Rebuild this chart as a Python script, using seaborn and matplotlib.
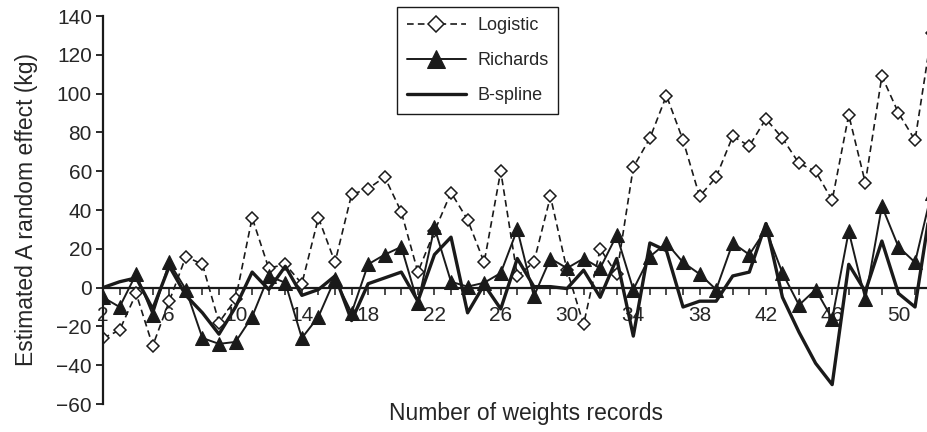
import matplotlib
matplotlib.use('Agg')
import matplotlib.pyplot as plt
import seaborn as sns
import numpy as np
import pandas as pd

# number of weight records on the x axis
records = list(range(2, 53))

logistic = [-26, -22, -3, -30, -7, 16, 12, -18, -6, 36, 10, 12, 2, 36, 13,
            48, 51, 57, 39, 8, 29, 49, 35, 13, 60, 6, 13, 47, 9, -19, 20, 7,
            62, 77, 99, 76, 47, 57, 78, 73, 87, 77, 64, 60, 45, 89, 54, 109,
            90, 76, 131]
richards = [-5, -10, 7, -14, 13, -1, -26, -29, -28, -15, 6, 2.5, -26, -15,
            4.5, -13, 12, 17, 21, -8, 31, 3, 0.5, 2.5, 7.5, 30, -4.5, 15, 10,
            15, 10, 27, -1, 16, 23, 13, 7, -1, 23, 17, 30, 7.5, -9, -1, -16,
            29, -6, 42, 21, 13, 49]
bspline = [0, 3, 5, -11, 11, -4, -13, -24, -10, 8, -1, 11, -4, -1, 6, -17,
           2, 5, 8, -7, 17, 26, -13, 1.5, -11, 15, 0.5, 0.5, -0.5, 9, -5, 15,
           -25, 23, 19, -10, -7, -7, 6, 8, 33, -5, -23, -39, -50, 12, -2, 24,
           -3, -10, 45]

y_ticks = list(range(-60, 141, 20))
x_labels = list(range(2, 52, 4))

df = pd.DataFrame({'records': records, 'Logistic': logistic,
                   'Richards': richards, 'B-spline': bspline})

sns.set_theme(style='white')
plt.rcParams['font.family'] = ['Liberation Sans', 'DejaVu Sans']

fig = plt.figure(figsize=(9.28, 4.32), dpi=100)
ax = fig.add_axes([103 / 928, 1 - 404 / 432, 828.6 / 928, 388 / 432])

sns.lineplot(data=df, x='records', y='Logistic', ax=ax, color='k',
             linestyle=(0, (4, 2.5)), lw=1.2, marker='D', ms=6.5,
             markerfacecolor='white', markeredgecolor='k', mew=1.1,
             label='Logistic')
sns.lineplot(data=df, x='records', y='Richards', ax=ax, color='k',
             lw=1.4, marker='^', ms=10, markerfacecolor='k',
             markeredgecolor='k', label='Richards')
sns.lineplot(data=df, x='records', y='B-spline', ax=ax, color='k',
             lw=2.4, label='B-spline')

ax.set_xlim(2, 52)
ax.set_ylim(-60, 140)
ax.set_yticks(y_ticks)
ax.set_xticks(x_labels)
ax.set_xticks(records, minor=True)

for side in ['top', 'right']:
    ax.spines[side].set_visible(False)
ax.spines['bottom'].set_position(('data', 0))
ax.spines['bottom'].set_linewidth(1.6)
ax.spines['left'].set_linewidth(1.6)
ax.spines['bottom'].set_color('k')
ax.spines['left'].set_color('k')
ax.spines['bottom'].set_zorder(1)

ax.tick_params(axis='y', which='major', direction='out', length=5, width=1.3,
               color='k', labelsize=15, pad=3, left=True)
ax.tick_params(axis='x', which='both', direction='out', length=5, width=1.1,
               color='k', labelsize=15, pad=8, bottom=True)

ax.set_ylabel('Estimated A random effect (kg)', fontsize=16.5)
ax.set_xlabel('Number of weights records', fontsize=16.5)
ax.yaxis.set_label_coords(-0.078, 0.5)
ax.xaxis.set_label_coords(0.5105, 0.006)

leg = ax.legend(loc='upper center', bbox_to_anchor=(477.5 / 928, 0.984),
                bbox_transform=fig.transFigure, fontsize=13,
                handlelength=3.3, labelspacing=1.0, frameon=True,
                fancybox=False, framealpha=1, borderpad=0.55,
                handletextpad=0.6, borderaxespad=0, markerscale=1.25)
leg.get_frame().set_edgecolor('k')
leg.get_frame().set_linewidth(1.0)

fig.savefig('out.png', dpi=100)
